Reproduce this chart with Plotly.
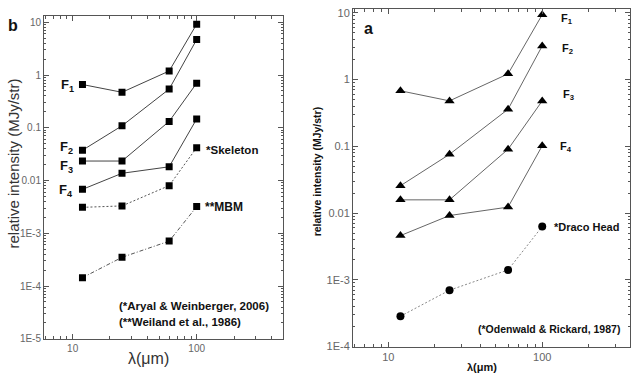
import plotly.graph_objects as go

W, H = 631, 381

# ---- data ----
wavelength = [12, 25, 60, 100]

# panel b (left)
b_F1 = [0.66, 0.47, 1.19, 9.2]
b_F2 = [0.0375, 0.109, 0.54, 4.7]
b_F3 = [0.0234, 0.0234, 0.132, 0.70]
b_F4 = [0.0068, 0.0137, 0.0182, 0.147]
b_skeleton = [0.0031, 0.0033, 0.008, 0.042]
b_mbm = [1.44e-4, 3.5e-4, 7.1e-4, 3.2e-3]

# panel a (right)
a_F1 = [0.68, 0.48, 1.22, 9.4]
a_F2 = [0.0257, 0.076, 0.36, 3.2]
a_F3 = [0.0158, 0.0158, 0.0906, 0.48]
a_F4 = [0.0046, 0.0092, 0.0123, 0.102]
a_draco = [2.85e-4, 7.0e-4, 1.41e-3, 6.3e-3]

b_ytickvals = [10, 1, 0.1, 0.01, 1e-3, 1e-4, 1e-5]
b_yticktext = ["10", "1", "0.1", "0.01", "1E-3", "1E-4", "1E-5"]
a_ytickvals = [10, 1, 0.1, 0.01, 1e-3, 1e-4]
a_yticktext = ["10", "1", "0.1", "0.01", "1E-3", "1E-4"]
xtickvals = [10, 100]
xticktext = ["10", "100"]

NARROW = "Liberation Sans Narrow, Arial Narrow, Liberation Sans, Arial, sans-serif"
SANS = "Liberation Sans, Arial, sans-serif"

fig = go.Figure()

def add_line(x, y, xa, ya, symbol, msize, color, dash):
    fig.add_trace(go.Scatter(
        x=x, y=y, xaxis=xa, yaxis=ya, mode="lines+markers",
        line=dict(color=color, width=1, dash=dash),
        marker=dict(symbol=symbol, size=msize, color="black"),
        showlegend=False, hoverinfo="skip"))

for s in [b_F1, b_F2, b_F3, b_F4]:
    add_line(wavelength, s, "x", "y", "square", 7, "#444", "solid")
add_line(wavelength, b_skeleton, "x", "y", "square", 7, "#555", "2px,2px")
add_line(wavelength, b_mbm, "x", "y", "square", 7, "#555", "4px,2px,1px,2px")

for s in [a_F1, a_F2, a_F3, a_F4]:
    add_line(wavelength, s, "x2", "y2", "triangle-up", 9, "#666", "solid")
add_line(wavelength, a_draco, "x2", "y2", "circle", 8, "#888", "2px,2px")

def px_x(p):
    return p / W

def px_y(p):
    return 1 - p / H

minor_x = [6, 7, 8, 9, 20, 30, 40, 50, 60, 70, 80, 90, 200, 300, 400]
minor_yb = [m * 10.0 ** e for e in range(-5, 1) for m in range(2, 10)]
minor_ya = [m * 10.0 ** e for e in range(-4, 1) for m in range(2, 10)]

def axis_common(fs):
    return dict(type="log", ticks="inside", mirror="ticks", showline=True,
                linecolor="#555", linewidth=1, tickcolor="#555",
                showgrid=False, zeroline=False,
                tickfont=dict(family=SANS, size=fs, color="#666"))

fig.update_layout(
    width=W, height=H, margin=dict(l=0, r=0, t=0, b=0),
    paper_bgcolor="white", plot_bgcolor="white",
    xaxis=dict(domain=[px_x(44), px_x(283)], range=[0.769, 2.696], anchor="y",
               tickvals=xtickvals, ticktext=xticktext, ticklen=5,
               minor=dict(tickvals=minor_x, ticks="inside", ticklen=3, tickcolor="#555"),
               **axis_common(10)),
    yaxis=dict(domain=[px_y(344), px_y(14)], range=[-5, 1.124], anchor="x",
               tickvals=b_ytickvals, ticktext=b_yticktext, ticklen=5,
               minor=dict(tickvals=minor_yb, ticks="inside", ticklen=2, tickcolor="#555"),
               **axis_common(10)),
    xaxis2=dict(domain=[px_x(353), px_x(630)], range=[0.771, 2.57], anchor="y2",
                tickvals=xtickvals, ticktext=xticktext, ticklen=5,
                minor=dict(tickvals=minor_x, ticks="inside", ticklen=3, tickcolor="#555"),
                **axis_common(11)),
    yaxis2=dict(domain=[px_y(352), px_y(7)], range=[-4, 1.06], anchor="x2",
                tickvals=a_ytickvals, ticktext=a_yticktext, ticklen=5,
                minor=dict(tickvals=minor_ya, ticks="inside", ticklen=2, tickcolor="#555"),
                **axis_common(11)),
)

def ann(text, x, y, size, family=NARROW, bold=True, color="#111", angle=0, xanchor="center"):
    t = f"<b>{text}</b>" if bold else text
    fig.add_annotation(text=t, x=px_x(x), y=px_y(y), xref="paper", yref="paper",
                       showarrow=False, xanchor=xanchor, yanchor="middle",
                       textangle=angle, font=dict(family=family, size=size, color=color))

# left panel
ann("b", 12.5, 24, 16, family=SANS)
ann("F<sub>1</sub>", 67, 85, 13, family=SANS)
ann("F<sub>2</sub>", 66, 149, 13, family=SANS)
ann("F<sub>3</sub>", 66, 168, 13, family=SANS)
ann("F<sub>4</sub>", 66, 193, 13, family=SANS)
ann("*Skeleton", 204, 151, 11.5, xanchor="left")
ann("**MBM", 203, 209, 12, xanchor="left")
ann("(*Aryal & Weinberger, 2006)", 117, 311, 11.5, xanchor="left")
ann("(**Weiland et al., 1986)", 117, 327, 11.5, xanchor="left")
ann("λ(μm)", 148, 364, 16, family=SANS, bold=False, color="#333")
ann("relative intensity (MJy/str)", 14, 165, 15, family=SANS, bold=False, color="#333", angle=-90)

# right panel
ann("a", 368, 27, 16, family=SANS)
ann("F<sub>1</sub>", 567, 17, 11, family=SANS)
ann("F<sub>2</sub>", 567, 48, 11, family=SANS)
ann("F<sub>3</sub>", 568, 95, 11, family=SANS)
ann("F<sub>4</sub>", 566, 148, 11, family=SANS)
ann("*Draco Head", 552, 230, 11, xanchor="left")
ann("(*Odenwald & Rickard, 1987)", 476, 334, 10.5, xanchor="left")
ann("λ(μm)", 482, 373, 11)
ann("relative intensity (MJy/str)", 317, 173, 10.5, angle=-90)

fig.write_html("out.html")
